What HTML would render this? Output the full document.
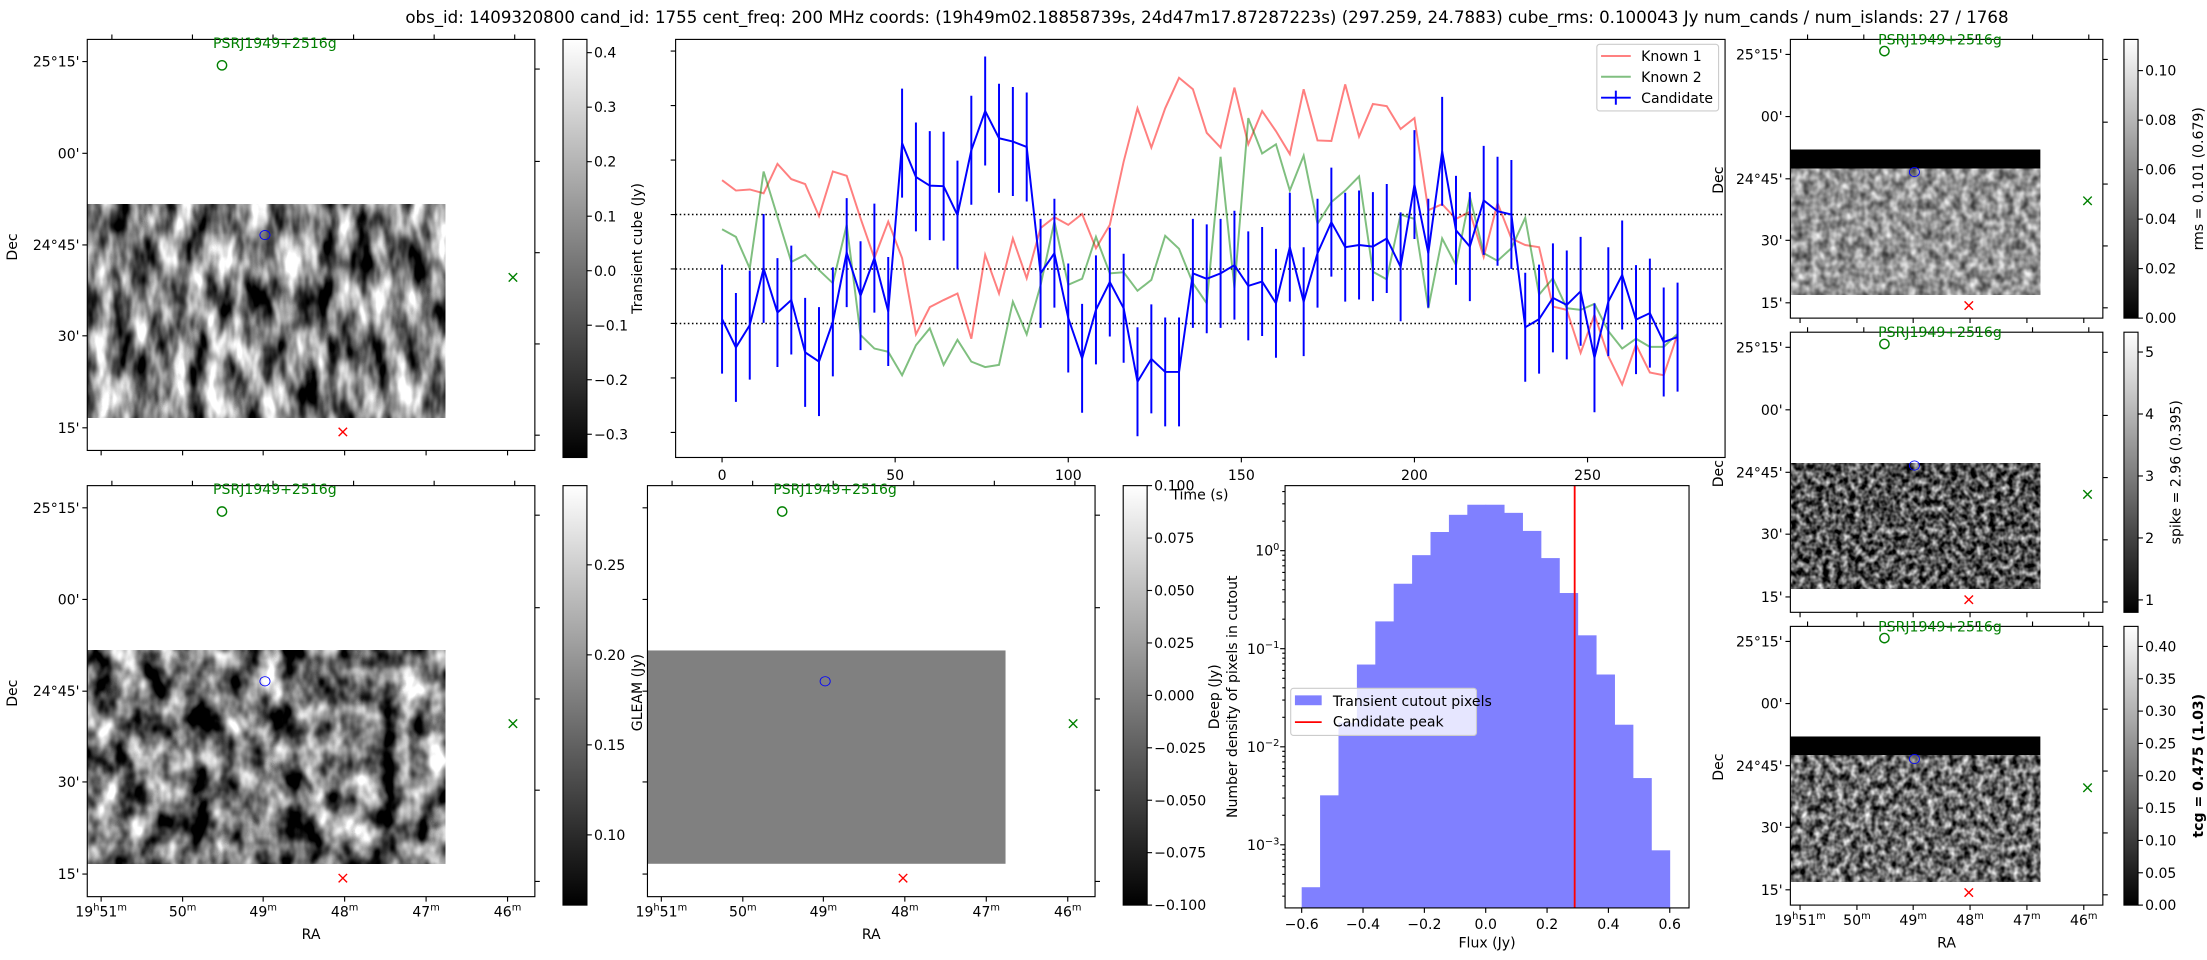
<!DOCTYPE html>
<html><head><meta charset="utf-8"><style>
html,body{margin:0;padding:0;background:#fff;}
svg{display:block;}
text{font-family:"DejaVu Sans","Liberation Sans",sans-serif;}
</style></head><body>
<svg id="fig" xmlns="http://www.w3.org/2000/svg" width="2207" height="960" viewBox="0 0 1568 682" preserveAspectRatio="none" font-size="10">
<defs>
<linearGradient id="gray" x1="0" y1="1" x2="0" y2="0"><stop offset="0" stop-color="#000"/><stop offset="1" stop-color="#fff"/></linearGradient>
<filter id="nzA" x="0" y="0" width="1" height="1" color-interpolation-filters="sRGB"><feTurbulence type="fractalNoise" baseFrequency="0.075 0.03" numOctaves="3" seed="7"/><feColorMatrix type="matrix" values="2.1 0 0 0 -0.55 2.1 0 0 0 -0.55 2.1 0 0 0 -0.55 0 0 0 0 1"/></filter>
<filter id="nzB" x="0" y="0" width="1" height="1" color-interpolation-filters="sRGB"><feTurbulence type="fractalNoise" baseFrequency="0.06 0.04" numOctaves="3" seed="11"/><feColorMatrix type="matrix" values="2.1 0 0 0 -0.6 2.1 0 0 0 -0.6 2.1 0 0 0 -0.6 0 0 0 0 1"/></filter>
<filter id="nzR1" x="0" y="0" width="1" height="1" color-interpolation-filters="sRGB"><feTurbulence type="fractalNoise" baseFrequency="0.16 0.14" numOctaves="2" seed="3"/><feColorMatrix type="matrix" values="1.0 0 0 0 0.08 1.0 0 0 0 0.08 1.0 0 0 0 0.08 0 0 0 0 1"/></filter>
<filter id="nzR2" x="0" y="0" width="1" height="1" color-interpolation-filters="sRGB"><feTurbulence type="fractalNoise" baseFrequency="0.22 0.2" numOctaves="2" seed="5"/><feColorMatrix type="matrix" values="1.5 0 0 0 -0.42 1.5 0 0 0 -0.42 1.5 0 0 0 -0.42 0 0 0 0 1"/></filter>
<filter id="nzR3" x="0" y="0" width="1" height="1" color-interpolation-filters="sRGB"><feTurbulence type="fractalNoise" baseFrequency="0.2 0.18" numOctaves="2" seed="9"/><feColorMatrix type="matrix" values="1.5 0 0 0 -0.33 1.5 0 0 0 -0.33 1.5 0 0 0 -0.33 0 0 0 0 1"/></filter>
<clipPath id="histClip"><rect x="913" y="345" width="287" height="300"/></clipPath>
</defs>
<text x="288" y="16.5" font-size="12" textLength="1139" lengthAdjust="spacingAndGlyphs">obs_id: 1409320800 cand_id: 1755 cent_freq: 200 MHz coords: (19h49m02.18858739s, 24d47m17.87287223s) (297.259, 24.7883) cube_rms: 0.100043 Jy num_cands / num_islands: 27 / 1768</text>
</svg>
<script>
// ---------- light curve data ----------
const times = [0,4,8,12,16,20,24,28,32,36,40,44,48,52,56,60,64,68,72,76,80,84,88,92,96,100,104,108,112,116,120,124,128,132,136,140,144,148,152,156,160,164,168,172,176,180,184,188,192,196,200,204,208,212,216,220,224,228,232,236,240,244,248,252,256,260,264,268,272,276];
const known1 = [0.163,0.144,0.146,0.139,0.193,0.165,0.156,0.097,0.179,0.171,0.093,0.02,0.087,0.02,-0.12,-0.07,-0.057,-0.045,-0.128,0.026,-0.045,0.056,-0.017,0.075,0.095,0.081,0.101,0.038,0.081,0.197,0.295,0.223,0.295,0.351,0.33,0.25,0.223,0.333,0.229,0.29,0.253,0.211,0.33,0.236,0.235,0.339,0.243,0.303,0.299,0.257,0.277,0.108,0.119,0.092,0.105,0.022,0.121,0.056,0.044,0.04,-0.069,-0.075,-0.154,-0.084,-0.16,-0.212,-0.139,-0.19,-0.195,-0.12];
const known2 = [0.073,0.059,0.001,0.179,0.096,0.013,0.026,-0.002,-0.026,0.081,-0.121,-0.146,-0.152,-0.195,-0.14,-0.109,-0.176,-0.13,-0.17,-0.18,-0.176,-0.06,-0.12,-0.03,0.087,-0.029,-0.018,0.059,-0.008,-0.006,-0.04,-0.02,0.061,0.037,-0.026,-0.063,0.206,-0.035,0.277,0.212,0.229,0.144,0.208,0.083,0.123,0.144,0.17,-0.005,-0.019,0.1,0.092,-0.072,0.056,0.007,0.133,0.029,0.015,0.038,0.094,-0.047,-0.017,-0.072,-0.075,-0.064,-0.114,-0.146,-0.128,-0.143,-0.143,-0.119];
const candidate = [-0.092,-0.144,-0.103,0.001,-0.08,-0.057,-0.153,-0.17,-0.097,0.03,-0.049,0.02,-0.078,0.231,0.169,0.153,0.152,0.099,0.218,0.29,0.24,0.234,0.224,-0.008,0.029,-0.09,-0.164,-0.075,-0.024,-0.072,-0.207,-0.165,-0.189,-0.189,-0.008,-0.018,-0.008,0.007,-0.031,-0.023,-0.063,0.04,-0.06,0.029,0.086,0.04,0.044,0.041,0.056,0.004,0.155,0.029,0.216,0.071,0.041,0.126,0.106,0.1,-0.107,-0.092,-0.053,-0.066,-0.041,-0.163,-0.06,-0.011,-0.093,-0.081,-0.134,-0.125];
const candErr = [0.1,0.1,0.1,0.1,0.1,0.1,0.1,0.1,0.1,0.1,0.1,0.1,0.1,0.1,0.1,0.1,0.1,0.1,0.1,0.1,0.1,0.1,0.1,0.1,0.1,0.1,0.1,0.1,0.1,0.1,0.1,0.1,0.1,0.1,0.1,0.1,0.1,0.1,0.1,0.1,0.1,0.1,0.1,0.1,0.1,0.1,0.1,0.1,0.1,0.1,0.1,0.1,0.1,0.1,0.1,0.1,0.1,0.1,0.1,0.1,0.1,0.1,0.1,0.1,0.1,0.1,0.1,0.1,0.1,0.1];
const thresholds = [-0.1, 0, 0.1];
const timeTicks = [0,50,100,150,200,250];
const lcYTicks = [-0.3,-0.2,-0.1,0,0.1,0.2,0.3,0.4];
// ---------- histogram data ----------
const binEdges = [-0.6,-0.54,-0.48,-0.42,-0.36,-0.3,-0.24,-0.18,-0.12,-0.06,0,0.06,0.12,0.18,0.24,0.3,0.36,0.42,0.48,0.54,0.6];
const densities = [0.00037,0.0032,0.0176,0.069,0.19,0.46,0.9,1.55,2.32,2.94,2.94,2.43,1.59,0.84,0.37,0.137,0.0546,0.0168,0.0048,0.00088];
const candidatePeak = [0.29];
const fluxTicks = [-0.6,-0.4,-0.2,0,0.2,0.4,0.6];
const fluxTickLabels = ['\u22120.6','\u22120.4','\u22120.2','0.0','0.2','0.4','0.6'];
const decadeTicks = [0,-1,-2,-3];
const decadeLabels = ['0','\u22121','\u22122','\u22123'];

const NS='http://www.w3.org/2000/svg';
const svg=document.getElementById('fig');
function E(tag,a,p){const el=document.createElementNS(NS,tag);for(const k in a)el.setAttribute(k,a[k]);(p||svg).appendChild(el);return el;}
function T(x,y,s,a,p){const el=E('text',Object.assign({x:x,y:y},a||{}),p);el.textContent=s;return el;}

// ---------- map panels ----------
const RA=['19<tspan dy="-4" font-size="7">h</tspan><tspan dy="4">51</tspan><tspan dy="-4" font-size="7">m</tspan>','50<tspan dy="-4" font-size="7">m</tspan>','49<tspan dy="-4" font-size="7">m</tspan>','48<tspan dy="-4" font-size="7">m</tspan>','47<tspan dy="-4" font-size="7">m</tspan>','46<tspan dy="-4" font-size="7">m</tspan>'];
const DEC=["25°15'","00'","24°45'","30'","15'"];
function mapPanel(p){
  const x=p.x,y=p.y,w=p.w,h=p.h;
  const g=E('g',{});
  
  
  const iw=0.8*w;
  if(p.band){
    const b=E('rect',{x:x,y:y+p.band[0]*h,width:iw,height:(p.band[1]-p.band[0])*h,fill:'#000'},g);
    
    
  }
  const im=E('rect',{x:x,y:y+p.img[0]*h,width:iw,height:(p.img[1]-p.img[0])*h,fill:p.fill||'#888'},g);
  if(p.filter) im.setAttribute('filter','url(#'+p.filter+')');
  
  
  const fr=E('rect',{x:x,y:y,width:w,height:h,fill:'none',stroke:'#000','stroke-width':0.8},g);
  
  
  let d='';
  [0.054,0.277,0.5,0.721,0.945].forEach(f=>{d+=`M${x} ${y+f*h}h-3.5`;});
  [0.072,0.297,0.519,0.741,0.963].forEach(f=>{d+=`M${x+w} ${y+f*h}h3.5`;});
  [0.031,0.213,0.393,0.575,0.757,0.939].forEach(f=>{d+=`M${x+f*w} ${y+h}v3.5`;});
  [0.055,0.235,0.415,0.595,0.775,0.955].forEach(f=>{d+=`M${x+f*w} ${y}v-3.5`;});
  const tk=E('path',{d:d,stroke:'#000','stroke-width':0.8,fill:'none'},g);
  
  
  if(p.ylabels){
    [0.054,0.277,0.5,0.721,0.945].forEach((f,i)=>{
      const t=T(x-5.5,y+f*h+3.6,DEC[i],{'text-anchor':'end'},g);
      
      
    });
    const dl=T(0,0,'Dec',{'text-anchor':'middle',transform:`translate(${p.decX} ${y+0.505*h}) rotate(-90)`},g);
    
    
  }
  if(p.xlabels){
    [0.031,0.213,0.393,0.575,0.757,0.939].forEach((f,i)=>{
      const t=E('text',{x:x+f*w,y:y+h+14,'text-anchor':'middle'},g);
      t.innerHTML=RA[i];
      
      
    });
    const rl=T(x+0.5*w,y+h+30,'RA',{'text-anchor':'middle'},g);
    
    
  }
  const gc=E('circle',{cx:x+0.301*w,cy:y+p.gcy*h,r:3.3,fill:'none',stroke:'#008000','stroke-width':1},g);
  
  
  const gt=T(x+0.281*w,y+p.tb,'PSRJ1949+2516g',{fill:'#008000'},g);
  
  
  const bc=E('ellipse',{cx:x+0.397*w,cy:y+0.476*h,rx:3.6,ry:3.3,fill:'none',stroke:'#0000ff','stroke-width':0.6},g);
  
  
  const gx=x+0.951*w, gy=y+0.579*h;
  const gX=E('path',{d:`M${gx-3} ${gy-3}L${gx+3} ${gy+3}M${gx-3} ${gy+3}L${gx+3} ${gy-3}`,stroke:'#008000','stroke-width':1},g);
  
  
  const rx=x+0.571*w, ry=y+0.955*h;
  const rX=E('path',{d:`M${rx-3} ${ry-3}L${rx+3} ${ry+3}M${rx-3} ${ry+3}L${rx+3} ${ry-3}`,stroke:'#ff0000','stroke-width':1},g);
  
  
}
function colorbar(c){
  const g=E('g',{});
  
  
  const r=E('rect',{x:c.x,y:c.y,width:c.w,height:c.h,fill:'url(#gray)',stroke:'#000','stroke-width':0.8},g);
  
  
  c.ticks.forEach((v,i)=>{
    const yy=c.y+c.h*(c.vmax-v)/(c.vmax-c.vmin);
    const tl=E('path',{d:`M${c.x+c.w} ${yy}h3.5`,stroke:'#000','stroke-width':0.8},g);
    
    
    const t=T(c.x+c.w+5,yy+3.6,c.labels[i],{},g);
    
    
  });
  if(c.title){
    const a={'text-anchor':'middle',transform:`translate(${c.tx} ${c.y+c.h/2}) rotate(-90)`};
    if(c.bold)a['font-weight']='bold';
    const t=T(0,0,c.title,a,g);
    
    
  }
}

mapPanel({name:'transient-cube-map',x:62,y:28,w:318,h:292,img:[0.401,0.920],filter:'nzA',gcy:0.063,tb:6,ylabels:true,decX:12,xlabels:false});
colorbar({name:'transient-colorbar',x:400,y:28,w:17,h:297,vmin:-0.3426,vmax:0.4243,ticks:[0.4,0.3,0.2,0.1,0,-0.1,-0.2,-0.3],labels:['0.4','0.3','0.2','0.1','0.0','\u22120.1','\u22120.2','\u22120.3'],title:'Transient cube (Jy)',tx:456});
mapPanel({name:'deep-image-map',x:62,y:345,w:318,h:292,img:[0.401,0.920],filter:'nzB',gcy:0.063,tb:6,ylabels:true,decX:12,xlabels:true});
colorbar({name:'deep-colorbar',x:400,y:345,w:17,h:298,vmin:0.061,vmax:0.294,ticks:[0.25,0.2,0.15,0.1],labels:['0.25','0.20','0.15','0.10']});
mapPanel({name:'gleam-map',x:460,y:345,w:318,h:292,img:[0.401,0.920],fill:'#808080',gcy:0.063,tb:6,ylabels:false,xlabels:true});
colorbar({name:'gleam-colorbar',x:798,y:345,w:17,h:298,vmin:-0.1,vmax:0.1,ticks:[0.1,0.075,0.05,0.025,0,-0.025,-0.05,-0.075,-0.1],labels:['0.100','0.075','0.050','0.025','0.000','\u22120.025','\u22120.050','\u22120.075','\u22120.100']});
const gl=T(0,0,'GLEAM (Jy)',{'text-anchor':'middle',transform:'translate(456 492) rotate(-90)'});



mapPanel({name:'rms-map',x:1272,y:28,w:222,h:198,band:[0.395,0.464],img:[0.464,0.917],filter:'nzR1',gcy:0.042,tb:3.5,ylabels:true,decX:1224,xlabels:false});
colorbar({name:'rms-colorbar',x:1509,y:28,w:10,h:198,vmin:0,vmax:0.1126,ticks:[0.1,0.08,0.06,0.04,0.02,0],labels:['0.10','0.08','0.06','0.04','0.02','0.00'],title:'rms = 0.101 (0.679)',tx:1565});
mapPanel({name:'spike-map',x:1272,y:236,w:222,h:199,img:[0.467,0.915],filter:'nzR2',gcy:0.042,tb:3.5,ylabels:true,decX:1224,xlabels:false});
colorbar({name:'spike-colorbar',x:1509,y:236,w:10,h:199,vmin:0.8,vmax:5.32,ticks:[5,4,3,2,1],labels:['5','4','3','2','1'],title:'spike = 2.96 (0.395)',tx:1549});
mapPanel({name:'tcg-map',x:1272,y:445,w:222,h:198,band:[0.395,0.462],img:[0.462,0.917],filter:'nzR3',gcy:0.042,tb:3.5,ylabels:true,decX:1224,xlabels:true});
colorbar({name:'tcg-colorbar',x:1509,y:445,w:10,h:198,vmin:0,vmax:0.431,ticks:[0.4,0.35,0.3,0.25,0.2,0.15,0.1,0.05,0],labels:['0.40','0.35','0.30','0.25','0.20','0.15','0.10','0.05','0.00'],title:'tcg = 0.475 (1.03)',tx:1565,bold:true});

// ---------- light curve ----------
const LC={l:480,r:1225.6,t:28,b:325};
function px(t){return 513+t*2.4596;}
function py(v){return 191.1-v*387;}
const lcg=E('g',{});


thresholds.forEach(v=>{
  const l=E('line',{x1:LC.l,x2:LC.r,y1:py(v),y2:py(v),stroke:'#000','stroke-width':1.1,'stroke-dasharray':'1.1 1.8'},lcg);
  
  
});
function poly(vals){return times.map((t,i)=>`${px(t).toFixed(2)},${py(vals[i]).toFixed(2)}`).join(' ');}
const k1=E('polyline',{points:poly(known1),fill:'none',stroke:'#ff0000','stroke-opacity':0.5,'stroke-width':1.4},lcg);


const k2=E('polyline',{points:poly(known2),fill:'none',stroke:'#008000','stroke-opacity':0.5,'stroke-width':1.4},lcg);


times.forEach((t,i)=>{
  const eb=E('line',{x1:px(t),x2:px(t),y1:py(candidate[i]+candErr[i]),y2:py(candidate[i]-candErr[i]),stroke:'#0000ff','stroke-width':1.4},lcg);
  
  
});
const cl=E('polyline',{points:poly(candidate),fill:'none',stroke:'#0000ff','stroke-width':1.4},lcg);


const lcf=E('rect',{x:LC.l,y:LC.t,width:LC.r-LC.l,height:LC.b-LC.t,fill:'none',stroke:'#000','stroke-width':0.8},lcg);


let ld='';
lcYTicks.forEach(v=>{ld+=`M${LC.l} ${py(v)}h-3.5`;});
timeTicks.forEach(t=>{ld+=`M${px(t)} ${LC.b}v3.5`;});
const lct=E('path',{d:ld,stroke:'#000','stroke-width':0.8},lcg);


timeTicks.forEach(t=>{
  const tl=T(px(t),LC.b+16,String(t),{'text-anchor':'middle'},lcg);
  
  
});
const tx=T(852.5,355,'Time (s)',{'text-anchor':'middle'},lcg);


// legend
const lg=E('g',{},lcg);


const lb=E('rect',{x:1134.5,y:31.5,width:86.5,height:47.3,rx:2,fill:'#fff','fill-opacity':0.8,stroke:'#ccc','stroke-width':0.8},lg);


[['Known 1','#ff8080',39.8],['Known 2','#80bf80',54.5],['Candidate','#0000ff',69.4]].forEach((e,i)=>{
  const ln=E('line',{x1:1137.5,x2:1158.6,y1:e[2],y2:e[2],stroke:e[1],'stroke-width':1.4},lg);
  
  
  if(i===2){
    const v=E('line',{x1:1148,x2:1148,y1:e[2]-5,y2:e[2]+5,stroke:e[1],'stroke-width':1.4},lg);
    
    
  }
  const lt=T(1166,e[2]+3.6,e[0],{},lg);
  
  
});

// ---------- histogram ----------
const H={l:913,r:1200,t:345,b:645};
function hx(v){return 924.8+(v+0.6)*217.92;}
function hy(d){return 391.2-Math.log10(d)*69.67;}
const hg=E('g',{});


const bars=E('g',{'clip-path':'url(#histClip)'},hg);


densities.forEach((d,i)=>{
  const x0=hx(binEdges[i]),x1=hx(binEdges[i+1]);
  const b=E('rect',{x:x0,y:hy(d),width:x1-x0+0.3,height:H.b-hy(d),fill:'#8080ff'},bars);
  
  
});
candidatePeak.forEach(v=>{
  const pl=E('line',{x1:hx(v),x2:hx(v),y1:H.t,y2:H.b,stroke:'#ff0000','stroke-width':1.3},hg);
  
  
});
const hf=E('rect',{x:H.l,y:H.t,width:H.r-H.l,height:H.b-H.t,fill:'none',stroke:'#000','stroke-width':0.8},hg);


let hd='';
fluxTicks.forEach(v=>{hd+=`M${hx(v)} ${H.b}v3.5`;});
decadeTicks.forEach(k=>{hd+=`M${H.l} ${hy(Math.pow(10,k))}h-3.5`;});
[-4,-3,-2,-1,0].forEach(k=>{for(let m=2;m<10;m++){const yy=hy(m*Math.pow(10,k));if(yy>H.t&&yy<H.b)hd+=`M${H.l} ${yy}h-2`;}});
const ht=E('path',{d:hd,stroke:'#000','stroke-width':0.8},hg);


fluxTicks.forEach((v,i)=>{
  const t=T(hx(v),660,fluxTickLabels[i],{'text-anchor':'middle'},hg);
  
  
});
decadeTicks.forEach((k,i)=>{
  const t=E('text',{x:909,y:hy(Math.pow(10,k))+3.6,'text-anchor':'end'},hg);
  t.innerHTML='10<tspan dy="-4" font-size="7">'+decadeLabels[i]+'</tspan>';
  
  
});
const fx=T(1056.5,673,'Flux (Jy)',{'text-anchor':'middle'},hg);


const yl=T(0,0,'Number density of pixels in cutout',{'text-anchor':'middle',transform:'translate(879 495) rotate(-90)'},hg);


const dj=T(0,0,'Deep (Jy)',{'text-anchor':'middle',transform:'translate(866 495) rotate(-90)'},hg);


const hl=E('g',{},hg);


const hlb=E('rect',{x:917,y:489,width:132,height:33.5,rx:2,fill:'#fff','fill-opacity':0.8,stroke:'#ccc','stroke-width':0.8},hl);


const hp=E('rect',{x:920,y:494,width:19,height:7,fill:'#8080ff'},hl);


const hlt=T(947,501.5,'Transient cutout pixels',{},hl);


const hr=E('line',{x1:920,x2:939,y1:513,y2:513,stroke:'#ff0000','stroke-width':1.3},hl);


const hrt=T(947,516,'Candidate peak',{},hl);


</script>
</body></html>
